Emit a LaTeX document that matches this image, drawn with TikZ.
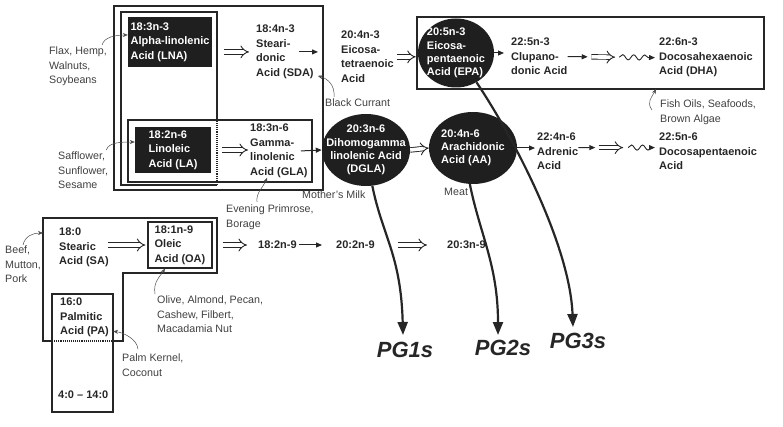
\documentclass[tikz,border=0pt]{standalone}
\usepackage{fontspec}
\setmainfont{Liberation Sans}
\usetikzlibrary{arrows.meta,shapes.geometric,decorations.pathmorphing,calc}

\begin{document}
\begin{tikzpicture}[x=1pt,y=-1pt,
		acido/.style={font=\fontsize{11}{14.5}\selectfont\bfseries, text=black!85, align=left, inner sep=0pt, anchor=north west},
		fuente/.style={font=\fontsize{10.7}{14.5}\selectfont, text=black!75, align=left, inner sep=0pt, anchor=north west},
		caja/.style={fill=black!88, text=white, font=\fontsize{11}{14.5}\selectfont\bfseries, align=left, inner sep=0pt},
		ovalo/.style={ellipse, fill=black!88, text=white, font=\fontsize{11}{13.3}\selectfont\bfseries, align=left, inner sep=-10pt},
		marco/.style={draw=black!85, line width=1.1pt},
		flecha/.style={draw=black!85, line width=1pt, -{Triangle[length=6pt,width=5pt]}},
		doble/.style={draw=black!85, double, double distance=3.6pt, line width=0.9pt, -{Implies[length=6pt,width=13pt]}},
		onda/.style={draw=black!85, line width=0.9pt, decorate, decoration={snake, amplitude=2.6pt, segment length=11pt, post length=6pt}, -{Triangle[length=6pt,width=5pt]}},
		origen/.style={draw=black!70, line width=0.5pt, -{Stealth[length=5pt,width=4pt]}},
		pg/.style={font=\fontsize{22}{22}\selectfont\bfseries\itshape, text=black!85, inner sep=0pt},
		pgflecha/.style={draw=black!85, line width=2.2pt, -{Triangle[length=13pt,width=10pt]}}]
		\useasboundingbox (0,0) rectangle (783,427);
		
		% Marcos n-3 / n-6
		\draw[marco] (114,6) rectangle (323,190);
		\draw[marco] (217,121) -- (217,12) -- (121,12) -- (121,185) -- (217,185);
		\draw[marco, densely dotted] (217,121) -- (217,185);
		\draw[marco] (128,120) rectangle (312,182);
		\draw[marco] (417,17) rectangle (764,89);
		\coordinate (pezfin) at (656,89);
		
		% Marcos n-9 y saturados
		\draw[marco] (52,341) -- (43,341) -- (43,218) -- (217,218) -- (217,273) -- (123,273) -- (123,341) -- (113,341);
		\draw[marco, densely dotted] (52,341) -- (113,341);
		\draw[marco] (52,294) rectangle (113,412);
		\coordinate (vacfin) at (43,233);
		
		% Serie n-3
		\node[caja, minimum width=84, minimum height=50] (lna) at (170,42) {18:3n-3\\Alpha-linolenic\\Acid (LNA)};
		\node[acido] (sda) at (256,25) {18:4n-3\\Steari-\\donic\\Acid (SDA)};
		\node[acido] (eta) at (341,31) {20:4n-3\\Eicosa-\\tetraenoic\\Acid};
		\node[ovalo, minimum width=76, minimum height=69] (epa) at (456,53) {20:5n-3\\Eicosa-\\pentaenoic\\Acid (EPA)};
		\node[acido] (dpa) at (511,38) {22:5n-3\\Clupano-\\donic Acid};
		\node[acido] (dha) at (659,38) {22:6n-3\\Docosahexaenoic\\Acid (DHA)};
		
		% Serie n-6
		\node[caja, minimum width=76, minimum height=46] (la) at (173,150) {18:2n-6\\Linoleic\\Acid (LA)};
		\node[acido] (gla) at (250,124) {18:3n-6\\Gamma-\\linolenic\\Acid (GLA)};
		\node[ovalo, align=center, minimum width=88, minimum height=72] (dgla) at (366,150) {20:3n-6\\Dihomogamma\\linolenic Acid\\(DGLA)};
		\node[ovalo, minimum width=88, minimum height=72] (aa) at (473,148) {20:4n-6\\Arachidonic\\Acid (AA)};
		\node[acido] (adr) at (537,133) {22:4n-6\\Adrenic\\Acid};
		\node[acido] (dpn) at (659,133) {22:5n-6\\Docosapentaenoic\\Acid};
		
		% Serie n-9 y saturados
		\node[acido] (sa) at (59,228) {18:0\\Stearic\\Acid (SA)};
		\node[acido, anchor=center, draw=black!85, line width=1.1pt, minimum width=64, minimum height=46] (oa) at (180,245) {18:1n-9\\Oleic\\Acid (OA)};
		\node[acido, anchor=west] (c182) at (258,245) {18:2n-9};
		\node[acido, anchor=west] (c202) at (336,245) {20:2n-9};
		\node[acido, anchor=west] (c203) at (447,245) {20:3n-9};
		\node[acido] (pa) at (60,298) {16:0\\Palmitic\\Acid (PA)};
		\node[acido, anchor=west] (corto) at (58,395) {4:0 – 14:0};
		
		% Fuentes
		\node[fuente] (lino) at (49,47) {Flax, Hemp,\\Walnuts,\\Soybeans};
		\node[fuente] (girasol) at (58,152) {Safflower,\\Sunflower,\\Sesame};
		\node[fuente] (grosella) at (325,99) {Black Currant};
		\node[fuente] (onagra) at (226,205) {Evening Primrose,\\Borage};
		\node[fuente] (leche) at (302,191) {Mother's Milk};
		\node[fuente] (carne) at (444,188) {Meat};
		\node[fuente] (pescado) at (660,100) {Fish Oils, Seafoods,\\Brown Algae};
		\node[fuente] (vacuno) at (5,246) {Beef,\\Mutton,\\Pork};
		\node[fuente] (olivo) at (157,296) {Olive, Almond, Pecan,\\Cashew, Filbert,\\Macadamia Nut};
		\node[fuente] (palma) at (122,354) {Palm Kernel,\\Coconut};
		
		% Prostaglandinas
		\node[pg] (pg1) at (405,350) {PG1s};
		\node[pg] (pg2) at (503,348) {PG2s};
		\node[pg] (pg3) at (578,341) {PG3s};
		
		% Flechas n-3
		\draw[doble, shorten <=12pt, shorten >=7pt] (lna.east |- sda.west) -- (sda.west);
		\draw[flecha, shorten >=23pt] ([xshift=-15pt]sda.east) -- (eta.west |- sda.east);
		\draw[doble, shorten <=3pt, shorten >=2pt] (eta.east) -- (epa.west |- eta.east);
		\draw[flecha, shorten >=7pt] (epa.east) -- (dpa.west |- epa.east);
		\coordinate (d1) at (dpa.east);
		\coordinate (d2) at (dha.west);
		\draw[flecha] (d1) -- ($(d1)!0.22!(d2)$);
		\draw[doble] ($(d1)!0.26!(d2)$) -- ($(d1)!0.52!(d2)$);
		\draw[onda, shorten >=4pt] ($(d1)!0.565!(d2)$) -- (d2);
		
		% Flechas n-6
		\draw[doble, shorten <=11pt, shorten >=2pt] (la.east) -- (gla.west |- la.east);
		\draw[flecha] ([xshift=-7pt]gla.east) -- (dgla.west);
		\draw[doble] (dgla.east) -- (aa.west);
		\draw[flecha, shorten >=2pt] (aa.east) -- (adr.west |- aa.east);
		\coordinate (a1) at ([yshift=4pt]adr.east);
		\coordinate (a2) at ([yshift=4pt]dpn.west);
		\draw[flecha] (a1) -- ($(a1)!0.21!(a2)$);
		\draw[doble] ($(a1)!0.25!(a2)$) -- ($(a1)!0.556!(a2)$);
		\draw[onda, shorten >=4pt] ($(a1)!0.617!(a2)$) -- (a2);
		
		% Flechas n-9
		\draw[doble, shorten <=-1pt, shorten >=2pt] (sa.east |- oa.west) -- (oa.west);
		\draw[doble, shorten <=10pt, shorten >=11pt] (oa.east) -- (c182.west);
		\draw[flecha, shorten <=2pt, shorten >=14pt] (c182.east) -- (c202.west);
		\draw[doble, shorten <=23pt, shorten >=20pt] (c202.east) -- (c203.west);
		
		% Flechas de las fuentes
		\draw[origen] ([xshift=-5pt,yshift=2pt]lino.north east) .. controls +(2,-8) and +(-12,0) .. ([yshift=7pt]lna.west);
		\draw[origen] ([xshift=-2pt,yshift=2pt]girasol.north east) .. controls +(2,-8) and +(-12,0) .. ([yshift=8pt]la.west);
		\draw[origen] ([xshift=9pt,yshift=2pt]grosella.north west) .. controls +(1,-12) and +(10,3) .. ([xshift=4pt,yshift=3pt]sda.south east);
		\draw[origen] ([xshift=31pt,yshift=3pt]onagra.north west) .. controls +(-1,-10) and +(-4,10) .. ([xshift=17pt]gla.south west);
		\draw[origen] ([xshift=-8pt,yshift=-10pt]pescado.north west) .. controls +(-6,-8) and +(-4,8) .. (pezfin);
		\draw[origen] ([xshift=18pt,yshift=1pt]vacuno.north west) .. controls +(2,-9) and +(-10,0) .. (vacfin);
		\draw[origen] ([xshift=-2pt,yshift=2pt]olivo.north west) .. controls +(-2,-12) and +(-5,8) .. ([xshift=-15pt]oa.south);
		\draw[origen] ([xshift=16pt,yshift=5pt]palma.north west) .. controls +(-1,-10) and +(10,1) .. ([xshift=4pt,yshift=6pt]pa.south east);
		
		% Flechas a las prostaglandinas
		\draw[pgflecha] (dgla.-80) .. controls +(10,50) and +(-2,-80) .. ([xshift=-2pt,yshift=7pt]pg1.north);
		\draw[pgflecha] (aa.-95) .. controls +(10,50) and +(0,-70) .. ([xshift=-5pt,yshift=5pt]pg2.north);
		\draw[pgflecha] (epa.-55) .. controls +(40,60) and +(-3,-80) .. ([xshift=-5pt,yshift=6pt]pg3.north);
	\end{tikzpicture}
\end{document}
